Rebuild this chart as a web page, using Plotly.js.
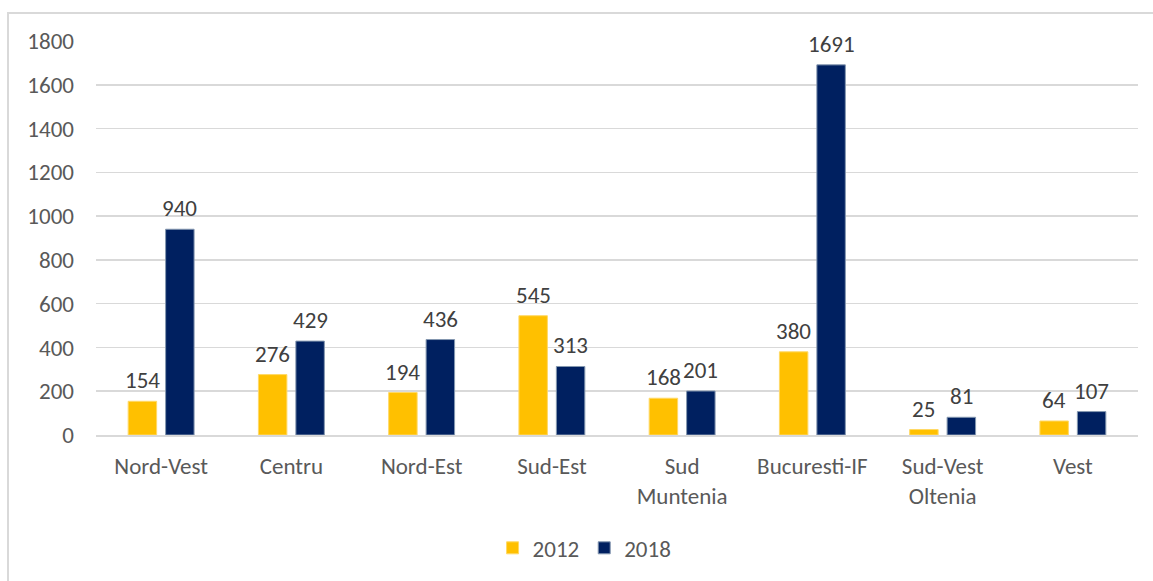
<!DOCTYPE html>
<html>
<head>
<meta charset="utf-8">
<script src="https://cdn.plot.ly/plotly-3.0.1.min.js"></script>
<style>
  html, body { margin: 0; padding: 0; background: #fff; }
  #frame { position: absolute; left: 7px; top: 12px; width: 1160px; height: 600px; border: 2px solid #D9D9D9; box-sizing: border-box; }
  #chart { position: absolute; left: 0; top: 0; width: 1153px; height: 581px; }
</style>
</head>
<body>
<div id="frame"></div>
<div id="chart"></div>
<script>
const categories = ["Nord-Vest", "Centru", "Nord-Est", "Sud-Est", "Sud<br>Muntenia", "Bucuresti-IF", "Sud-Vest<br>Oltenia", "Vest"];
const values2012 = [154, 276, 194, 545, 168, 380, 25, 64];
const values2018 = [940, 429, 436, 313, 201, 1691, 81, 107];
const yTicks = [0, 200, 400, 600, 800, 1000, 1200, 1400, 1600, 1800];

const fontFam = "Carlito, Calibri, 'Open Sans', sans-serif";
const fs = 23;

const traces = [
  {
    type: "bar", name: "2012", x: categories, y: values2012,
    marker: { color: "#FFC000", line: { color: "#FFD966", width: 1 } }
  },
  {
    type: "bar", name: "2018", x: categories, y: values2018,
    marker: { color: "#002060", line: { color: "#8497B0", width: 1 } }
  }
];

// data labels, placed over each bar via the axes
const slotShift = 18.8;
const annotations = [];
categories.forEach((c, i) => {
  annotations.push({ x: c, y: values2012[i], xref: "x", yref: "y", text: String(values2012[i]),
    showarrow: false, xshift: -slotShift, yanchor: "bottom", yshift: 5,
    font: { family: fontFam, size: fs, color: "#404040" } });
  annotations.push({ x: c, y: values2018[i], xref: "x", yref: "y", text: String(values2018[i]),
    showarrow: false, xshift: slotShift, yanchor: "bottom", yshift: 5,
    font: { family: fontFam, size: fs, color: "#404040" } });
});

const layout = {
  width: 1153, height: 581,
  margin: { l: 96, r: 15, t: 41, b: 146 },
  paper_bgcolor: "rgba(0,0,0,0)", plot_bgcolor: "rgba(0,0,0,0)",
  font: { family: fontFam, size: fs, color: "#595959" },
  barmode: "group", bargap: 0.425, bargroupgap: 0.24,
  annotations: annotations,
  xaxis: {
    type: "category", showgrid: false, showline: true, linecolor: "#D9D9D9", linewidth: 2,
    ticks: "", ticklabelstandoff: 9, tickfont: { family: fontFam, size: fs, color: "#595959" }
  },
  yaxis: {
    range: [0, 1800], tickvals: yTicks, ticktext: yTicks.map(String),
    showgrid: true, gridcolor: "#D9D9D9", gridwidth: 1.5, zeroline: false,
    showline: false, ticks: "", ticklen: 0, ticklabelstandoff: 21,
    tickfont: { family: fontFam, size: fs, color: "#595959" },
    automargin: false
  },
  showlegend: true,
  legend: {
    orientation: "h", x: 0.507, xanchor: "center", xref: "container", y: 0.02, yanchor: "bottom", yref: "container",
    font: { family: fontFam, size: fs, color: "#595959" }, itemwidth: 30
  }
};

Plotly.newPlot("chart", traces, layout, { displayModeBar: false, staticPlot: true });
</script>
</body>
</html>
